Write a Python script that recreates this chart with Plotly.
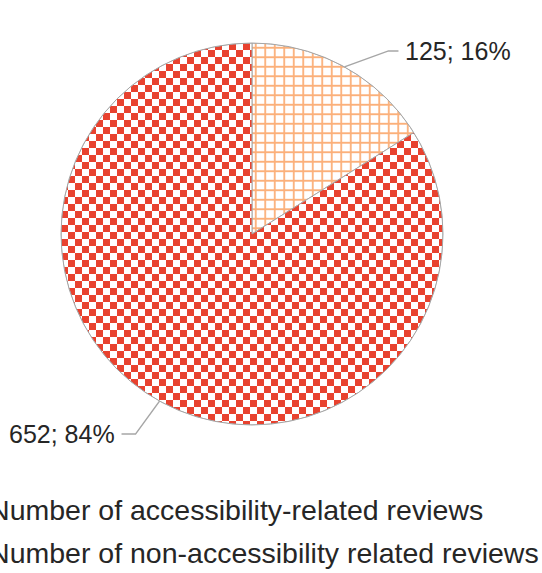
import math
import plotly.graph_objects as go

# ---- data ----
labels = ["Number of accessibility-related reviews",
          "Number of non-accessibility related reviews"]
values = [125, 652]

# ---- style ----
W, H = 542, 573
CX, CY, R = 252, 234, 191          # pie centre / radius in px
orange = "#FBB07A"
red = "#E8422F"
checker = "M0,0H7V7H0Z M7,7H14V14H7Z"
patterns = [dict(shape="+", fgcolor=orange, bgcolor="white", size=9.5,
                 solidity=0.34, fgopacity=1, fillmode="replace"),
            dict(shape="", path=checker, fgcolor=red, bgcolor="white",
                 size=14, fgopacity=1, fillmode="replace")]
colors = [orange, red]
font = "Liberation Sans, Arial, sans-serif"
txt_col = "#262626"
edge_col = "#A6A6A6"
# leader offsets (dx1, dy1, horizontal dx2) for each label
leader = [(44, -16, 10), (-24, 33, -14)]

total = sum(values)
fracs = [v / total for v in values]
widths = [f * 360 for f in fracs]
mids = []
acc = 0.0
for w in widths:
    mids.append(acc + w / 2)
    acc += w

fig = go.Figure()
for i in range(len(values)):
    fig.add_trace(go.Barpolar(
        name=labels[i], legendgroup=f"g{i}",
        r=[1], theta=[mids[i]], width=[widths[i]],
        marker=dict(color=colors[i], line=dict(color=edge_col, width=1),
                    pattern=patterns[i]),
        hovertemplate=f"{labels[i]}: {values[i]} ({fracs[i]*100:.0f}%)<extra></extra>",
    ))

px = lambda x: x / W
py = lambda y: 1 - y / H

# labels with leader lines computed from slice mid-angles
for i, v in enumerate(values):
    mid = math.radians(mids[i])
    ex, ey = CX + R * math.sin(mid), CY - R * math.cos(mid)
    dx1, dy1, dx2 = leader[i]
    kx, ky = ex + dx1, ey + dy1
    lx = kx + dx2
    fig.add_shape(type="path", xref="paper", yref="paper",
                  path=f"M{px(ex)},{py(ey)} L{px(kx)},{py(ky)} L{px(lx)},{py(ky)}",
                  line=dict(color=edge_col, width=1.5))
    fig.add_annotation(xref="paper", yref="paper", x=px(lx + (5 if dx2 > 0 else -5)),
                       y=py(ky), text=f"{v}; {round(fracs[i] * 100)}%", showarrow=False,
                       xanchor="left" if dx2 > 0 else "right", yanchor="middle",
                       font=dict(family=font, size=25, color=txt_col))

fig.update_layout(
    width=W, height=H,
    margin=dict(l=0, r=0, t=0, b=0, pad=0, autoexpand=False),
    paper_bgcolor="white", plot_bgcolor="white",
    polar=dict(
        domain=dict(x=[px(CX - R), px(CX + R)], y=[py(CY + R), py(CY - R)]),
        bgcolor="white", hole=0,
        radialaxis=dict(visible=False, range=[0, 1]),
        angularaxis=dict(direction="clockwise", rotation=90, showgrid=False,
                         showticklabels=False, ticks="", showline=True,
                         linecolor=edge_col, linewidth=1),
    ),
    showlegend=True,
    legend=dict(orientation="v", x=-0.094, xanchor="left",
                y=py(484), yanchor="top", tracegroupgap=3,
                font=dict(family=font, size=28.5, color=txt_col),
                bgcolor="rgba(0,0,0,0)", traceorder="grouped"),
)

fig.write_html("out.html")
